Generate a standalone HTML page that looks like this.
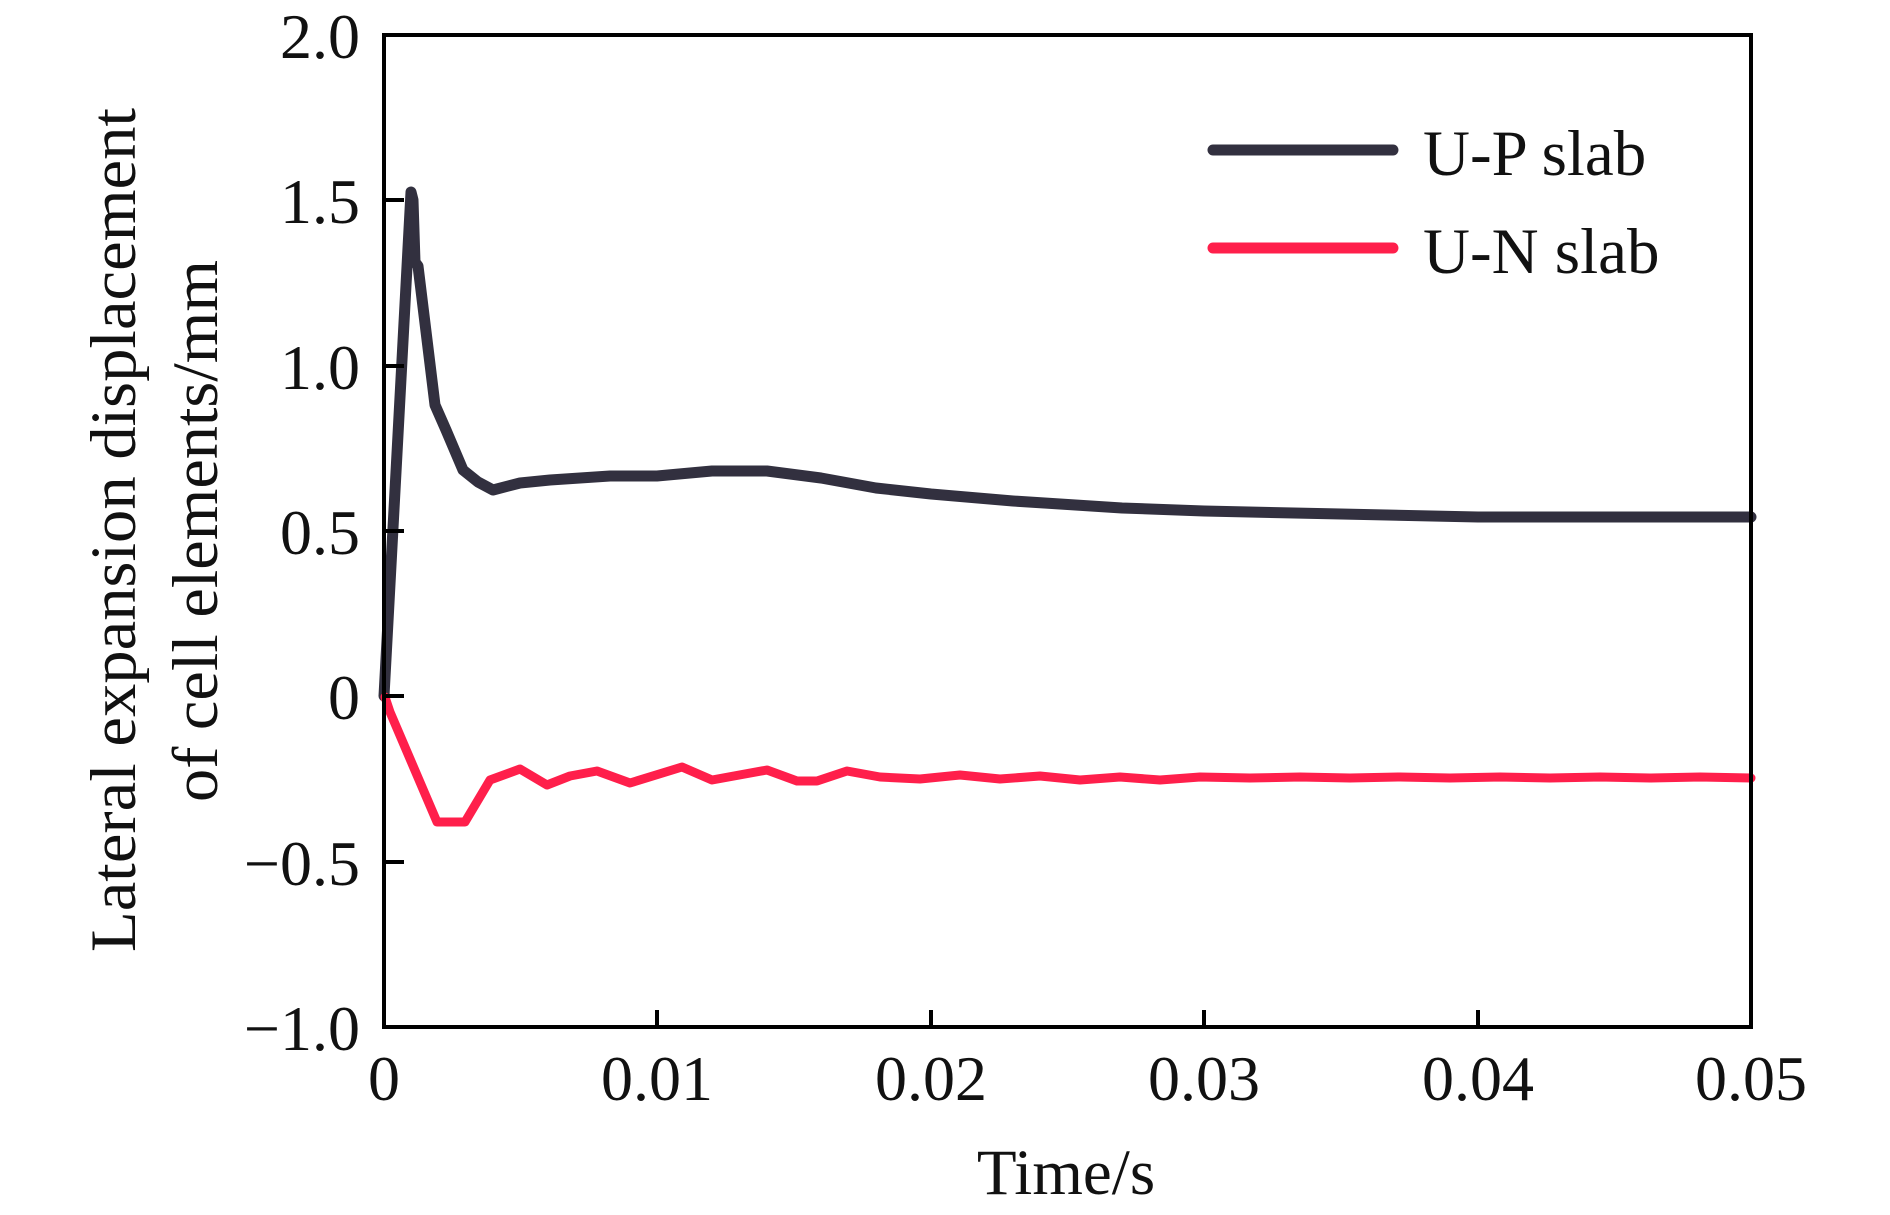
<!DOCTYPE html>
<html><head><meta charset="utf-8"><style>
html,body{margin:0;padding:0;background:#fff;}
svg{display:block;}
text{font-family:"Liberation Serif","Times New Roman",serif;fill:#111;}
</style></head><body>
<svg width="1890" height="1215" viewBox="0 0 1890 1215" xmlns="http://www.w3.org/2000/svg">
<rect width="1890" height="1215" fill="#fff"/>
<polyline fill="none" stroke="#32303f" stroke-width="11" stroke-linejoin="round" stroke-linecap="round" points="384,696 411,192 413,200 415,262 418,266 435,405 446,430 463,470 478,482 493,490 520,483 550,480 580,478 610,476 657,476 690,473 712,471 767,471 821,478 876,488 931,494 1013,501 1122,508 1204,511 1341,514 1478,517 1751,517"/>
<polyline fill="none" stroke="#ff1f4b" stroke-width="9" stroke-linejoin="round" stroke-linecap="round" points="385,697 390,712 437,822 465,822 490,780 520,769 547,785 570,776 597,771 630,783 682,767 712,780 767,770 797,781 817,781 847,771 880,777 920,779 960,775 1000,779 1040,776 1080,780 1120,777 1160,780 1200,777 1250,778 1300,777 1350,778 1400,777 1450,778 1500,777 1550,778 1600,777 1650,778 1700,777 1751,778"/>
<rect x="384" y="35" width="1367" height="992" fill="none" stroke="#000" stroke-width="4"/>
<g stroke="#000" stroke-width="4">
<line x1="384" y1="200" x2="404" y2="200"/>
<line x1="384" y1="366" x2="404" y2="366"/>
<line x1="384" y1="531" x2="404" y2="531"/>
<line x1="384" y1="696" x2="404" y2="696"/>
<line x1="384" y1="862" x2="404" y2="862"/>
<line x1="657" y1="1027" x2="657" y2="1010"/>
<line x1="931" y1="1027" x2="931" y2="1010"/>
<line x1="1204" y1="1027" x2="1204" y2="1010"/>
<line x1="1478" y1="1027" x2="1478" y2="1010"/>
</g>
<g font-size="64" text-anchor="end">
<text x="360" y="58">2.0</text>
<text x="360" y="223">1.5</text>
<text x="360" y="389">1.0</text>
<text x="360" y="554">0.5</text>
<text x="360" y="719">0</text>
<text x="360" y="885">−0.5</text>
<text x="360" y="1050">−1.0</text>
</g>
<g font-size="64" text-anchor="middle">
<text x="384" y="1100">0</text>
<text x="657" y="1100">0.01</text>
<text x="931" y="1100">0.02</text>
<text x="1204" y="1100">0.03</text>
<text x="1478" y="1100">0.04</text>
<text x="1751" y="1100">0.05</text>
</g>
<text x="1066" y="1194" font-size="65" text-anchor="middle">Time/s</text>
<text transform="translate(135,530) rotate(-90)" font-size="65" text-anchor="middle" textLength="844" lengthAdjust="spacingAndGlyphs">Lateral expansion displacement</text>
<text transform="translate(217,531) rotate(-90)" font-size="65" text-anchor="middle" textLength="542" lengthAdjust="spacingAndGlyphs">of cell elements/mm</text>
<line x1="1213" y1="150" x2="1393" y2="150" stroke="#32303f" stroke-width="11" stroke-linecap="round"/>
<line x1="1213" y1="248" x2="1393" y2="248" stroke="#ff1f4b" stroke-width="11" stroke-linecap="round"/>
<text x="1423" y="175" font-size="65">U-P slab</text>
<text x="1423" y="273" font-size="65">U-N slab</text>
</svg>
</body></html>
